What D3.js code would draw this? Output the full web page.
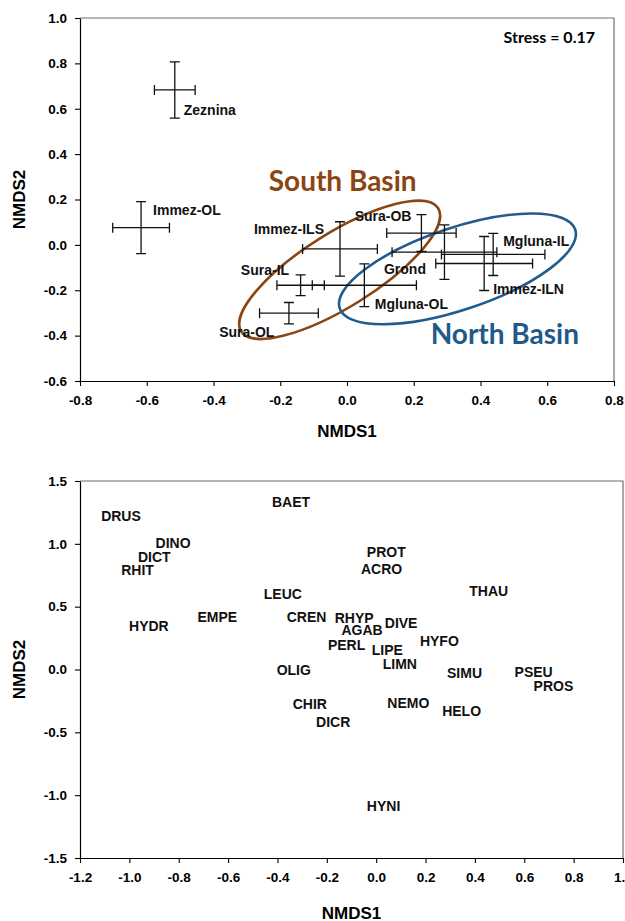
<!DOCTYPE html>
<html>
<head>
<meta charset="utf-8">
<script src="https://cdn.jsdelivr.net/npm/d3@7"></script>
<style>
  html, body { margin: 0; padding: 0; background: #fff; }
  svg { display: block; }
  text { font-family: "Liberation Sans", Arial, sans-serif; font-weight: bold; }
</style>
</head>
<body>
<script>
// ---------- DATA ----------
// Top panel: site centroids with error bars (NMDS1, NMDS2)
const siteNames = ["Zeznina", "Immez-OL", "Immez-ILS", "Sura-IL", "Sura-OL", "Sura-OB", "Grond", "Mgluna-OL", "Mgluna-IL", "Immez-ILN"];
const siteX     = [-0.516, -0.617, -0.021, -0.139, -0.174, 0.223, 0.292, 0.052, 0.438, 0.411];
const siteXErr  = [0.061, 0.085, 0.112, 0.071, 0.088, 0.104, 0.157, 0.156, 0.155, 0.145];
const siteY     = [0.683, 0.076, -0.018, -0.178, -0.301, 0.052, -0.032, -0.178, -0.042, -0.082];
const siteYErr  = [0.124, 0.115, 0.120, 0.046, 0.047, 0.081, 0.120, 0.094, 0.093, 0.119];

// Basin groupings (ellipses), in data units
const basinNames  = ["South Basin", "North Basin"];
const basinCX     = [-0.022, 0.331];
const basinCY     = [-0.110, -0.106];
const basinA      = [0.348, 0.372];   // semi-major (NMDS1 units)
const basinB      = [0.111, 0.123];   // semi-minor (NMDS1 units)
const basinAngle  = [32, 18.5];       // degrees, counter-clockwise
const basinLabelX = [-0.013, 0.473];
const basinLabelY = [0.286, -0.389];

const stressText = "Stress = 0.17";

// Bottom panel: species scores
const speciesNames = ["DRUS","BAET","DINO","DICT","RHIT","LEUC","EMPE","HYDR","CREN","PROT","ACRO","THAU","RHYP","DIVE","AGAB","HYFO","PERL","LIPE","LIMN","OLIG","SIMU","PSEU","PROS","CHIR","NEMO","HELO","DICR","HYNI"];
const speciesX = [-1.034,-0.345,-0.823,-0.899,-0.967,-0.378,-0.644,-0.921,-0.282,0.041,0.022,0.456,-0.089,0.101,-0.057,0.256,-0.120,0.045,0.096,-0.334,0.358,0.638,0.718,-0.269,0.130,0.346,-0.174,0.030];
const speciesY = [1.222,1.334,1.007,0.896,0.789,0.600,0.417,0.345,0.417,0.935,0.797,0.622,0.412,0.372,0.317,0.226,0.191,0.157,0.040,-0.002,-0.030,-0.022,-0.133,-0.274,-0.266,-0.327,-0.420,-1.090];

// Tick values
const topXTicks = [-0.8,-0.6,-0.4,-0.2,0.0,0.2,0.4,0.6,0.8];
const topYTicks = [-0.6,-0.4,-0.2,0.0,0.2,0.4,0.6,0.8,1.0];
const botXTicks = [-1.2,-1.0,-0.8,-0.6,-0.4,-0.2,0.0,0.2,0.4,0.6,0.8,1.0];
const botYTicks = [-1.5,-1.0,-0.5,0.0,0.5,1.0,1.5];
const xTitle = "NMDS1";
const yTitle = "NMDS2";

// ---------- LAYOUT ----------
const W = 625, H = 921;
const svg = d3.select("body").append("svg").attr("width", W).attr("height", H);
svg.append("rect").attr("width", W).attr("height", H).attr("fill", "#fff");

const fmt = d => d3.format(".1f")(d).replace("\u2212", "-");

function panel(xDom, yDom, box, xt, yt, titleY) {
  const x = d3.scaleLinear().domain(xDom).range([box.l, box.r]);
  const y = d3.scaleLinear().domain(yDom).range([box.b, box.t]);
  const g = svg.append("g");
  g.append("path")
    .attr("d", `M${box.l},${box.t}H${box.r}V${box.b}`)
    .attr("fill", "none").attr("stroke", "#6f6f6f").attr("stroke-width", 1.2);
  const ax = g.append("g").attr("transform", `translate(0,${box.b})`)
    .call(d3.axisBottom(x).tickValues(xt).tickFormat(fmt).tickSize(5).tickSizeOuter(0).tickPadding(9));
  const ay = g.append("g").attr("transform", `translate(${box.l},0)`)
    .call(d3.axisLeft(y).tickValues(yt).tickFormat(fmt).tickSize(5).tickSizeOuter(0).tickPadding(8));
  [ax, ay].forEach(a => {
    a.select(".domain").attr("stroke", "#000").attr("stroke-width", 1.2);
    a.selectAll(".tick line").attr("stroke", "#000").attr("stroke-width", 1.1);
    a.selectAll(".tick text").attr("fill", "#000")
      .style("font-family", '"Liberation Sans", Arial, sans-serif')
      .style("font-weight", "bold").style("font-size", "13.5px");
  });
  g.append("text").attr("x", (box.l + box.r) / 2).attr("y", titleY)
    .attr("text-anchor", "middle").attr("dominant-baseline", "central")
    .style("font-size", "17px").text(xTitle);
  g.append("text").attr("transform", `translate(19,${(box.t + box.b) / 2}) rotate(-90)`)
    .attr("text-anchor", "middle").attr("dominant-baseline", "central")
    .style("font-size", "17px").text(yTitle);
  return { x, y, g };
}

// ---------- TOP PANEL ----------
const topP = panel([-0.8, 0.8], [-0.6, 1.0], { l: 80, r: 614, t: 18, b: 381 }, topXTicks, topYTicks, 431);
const tx = topP.x, ty = topP.y;

const basinColors = ["#8B4513", "#225C8F"];
const basinText = ["#8B4513", "#1F5A8A"];
basinNames.forEach((n, i) => {
  const cx = tx(basinCX[i]), cy = ty(basinCY[i]);
  const rx = tx(basinA[i]) - tx(0), ry = tx(basinB[i]) - tx(0);
  topP.g.append("ellipse").attr("cx", cx).attr("cy", cy).attr("rx", rx).attr("ry", ry)
    .attr("transform", `rotate(${-basinAngle[i]},${cx},${cy})`)
    .attr("fill", "none").attr("stroke", basinColors[i]).attr("stroke-width", 2.6);
});

const cap = 5;
const sites = siteNames.map((n, i) => ({ n, x: siteX[i], y: siteY[i], ex: siteXErr[i], ey: siteYErr[i] }));
const eb = topP.g.append("g").attr("stroke", "#111").attr("stroke-width", 1.3).attr("fill", "none");
sites.forEach(d => {
  const cx = tx(d.x), cy = ty(d.y);
  const x0 = tx(d.x - d.ex), x1 = tx(d.x + d.ex);
  const y0 = ty(d.y + d.ey), y1 = ty(d.y - d.ey);
  eb.append("path").attr("d",
    `M${x0},${cy}H${x1}M${x0},${cy - cap}V${cy + cap}M${x1},${cy - cap}V${cy + cap}` +
    `M${cx},${y0}V${y1}M${cx - cap},${y0}H${cx + cap}M${cx - cap},${y1}H${cx + cap}`);
});

const siteLabelPos = {
  "Zeznina":   [9, 20, "start"],
  "Immez-OL":  [12, -18, "start"],
  "Immez-ILS": [-16, -20, "end"],
  "Sura-IL":   [-11.5, -15.5, "end"],
  "Sura-OL":   [-14.5, 18.4, "end"],
  "Sura-OB":   [-10, -17, "end"],
  "Grond":     [-18.5, 17, "end"],
  "Mgluna-OL": [10.5, 19, "start"],
  "Mgluna-IL": [10, -13.5, "start"],
  "Immez-ILN": [9, 26, "start"]
};
sites.forEach(d => {
  const p = siteLabelPos[d.n];
  topP.g.append("text").attr("x", tx(d.x) + p[0]).attr("y", ty(d.y) + p[1])
    .attr("text-anchor", p[2]).attr("dominant-baseline", "central")
    .style("font-size", "14px").attr("fill", "#111").text(d.n);
});

basinNames.forEach((n, i) => {
  topP.g.append("text").attr("x", tx(basinLabelX[i])).attr("y", ty(basinLabelY[i]))
    .attr("text-anchor", "middle").attr("dominant-baseline", "central")
    .style("font-family", 'Lato, "Open Sans", sans-serif').style("font-weight", "bold")
    .style("font-size", "28px").attr("fill", basinText[i]).text(n);
});

topP.g.append("text").attr("x", 595).attr("y", 36)
  .attr("text-anchor", "end").attr("dominant-baseline", "central")
  .style("font-family", 'Lato, "Open Sans", sans-serif').style("font-weight", "bold")
  .style("font-size", "16px").attr("fill", "#000").text(stressText);

// ---------- BOTTOM PANEL ----------
const botP = panel([-1.2, 1.0], [-1.5, 1.5], { l: 80, r: 623, t: 481, b: 858 }, botXTicks, botYTicks, 913);
const bx = botP.x, by = botP.y;
speciesNames.forEach((n, i) => {
  botP.g.append("text").attr("x", bx(speciesX[i])).attr("y", by(speciesY[i]))
    .attr("text-anchor", "middle").attr("dominant-baseline", "central")
    .style("font-size", "14px").attr("fill", "#111").text(n);
});
</script>
</body>
</html>
